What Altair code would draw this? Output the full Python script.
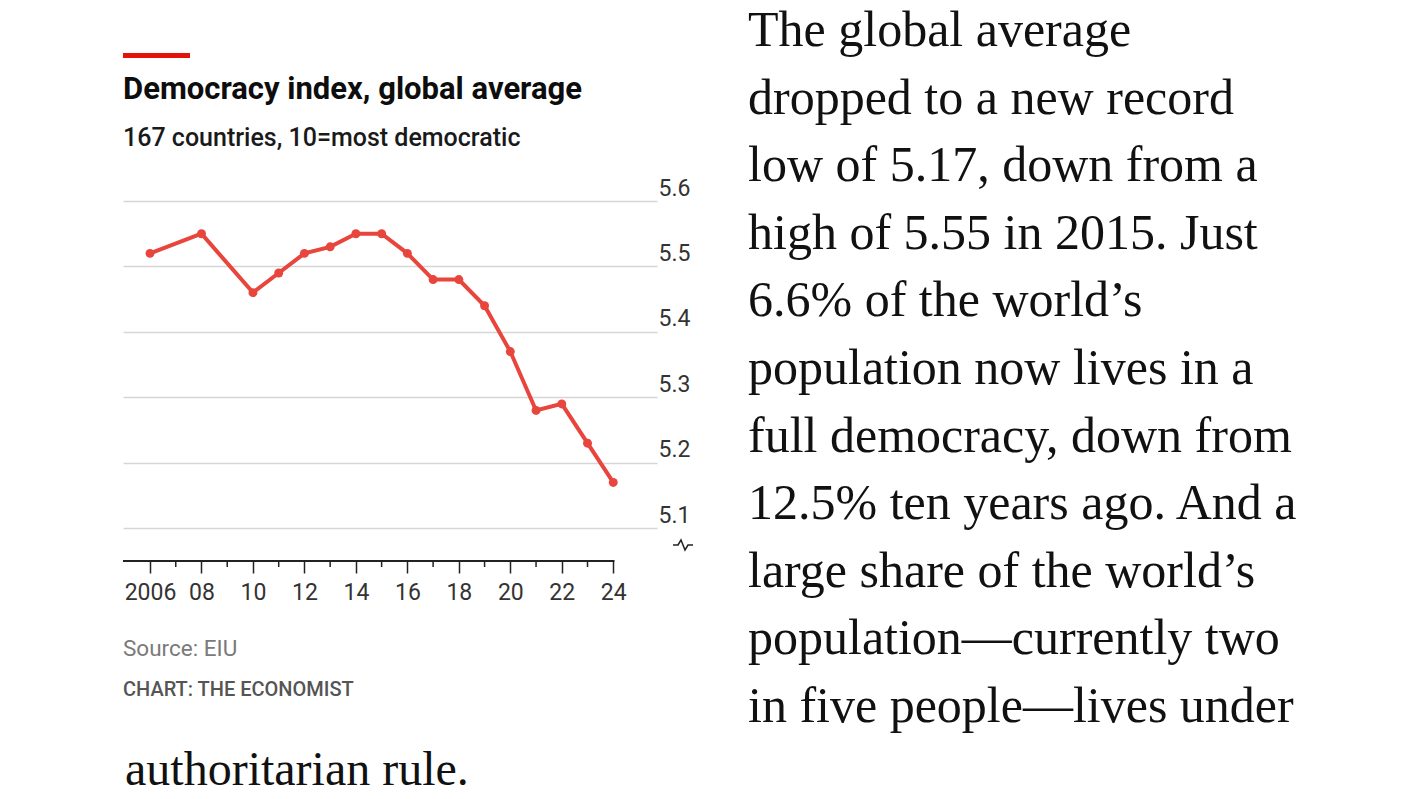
import altair as alt
import pandas as pd

# ---- data ----
years = [2006, 2008, 2010, 2011, 2012, 2013, 2014, 2015, 2016, 2017, 2018,
         2019, 2020, 2021, 2022, 2023, 2024]
values = [5.52, 5.55, 5.46, 5.49, 5.52, 5.53, 5.55, 5.55, 5.52, 5.48, 5.48,
          5.44, 5.37, 5.28, 5.29, 5.23, 5.17]
y_ticks = [5.1, 5.2, 5.3, 5.4, 5.5, 5.6]
major_years = list(range(2006, 2025, 2))
minor_years = list(range(2007, 2024, 2))

title_text = "Democracy index, global average"
subtitle_text = "167 countries, 10=most democratic"
source_text = "Source: EIU"
credit_text = "CHART: THE ECONOMIST"
body_lines = [
    "The global average",
    "dropped to a new record",
    "low of 5.17, down from a",
    "high of 5.55 in 2015. Just",
    "6.6% of the world\u2019s",
    "population now lives in a",
    "full democracy, down from",
    "12.5% ten years ago. And a",
    "large share of the world\u2019s",
    "population\u2014currently two",
    "in five people\u2014lives under",
]
body_tail = "authoritarian rule."

# ---- layout ----
W, H = 534, 360
X0, X1 = 2004.95, 2025.7
Y0, Y1 = 5.05, 5.6
SANS = "Roboto"
SERIF = "Liberation Serif"
RED_LINE = "#E8453D"

df = pd.DataFrame({"year": years, "value": values})
xscale = alt.Scale(domain=[X0, X1], nice=False, zero=False)
yscale = alt.Scale(domain=[Y0, Y1], nice=False, zero=False)

xaxis = alt.Axis(
    values=major_years,
    labelExpr="datum.value == 2006 ? '2006' : format(datum.value % 100, '02d')",
    domain=False, grid=False, tickSize=12, tickColor="#222", tickWidth=1.5,
    labelFont=SANS, labelFontSize=23, labelColor="#333", labelPadding=8,
    title=None, labelFlush=False, labelOverlap=False,
)
yaxis = alt.Axis(
    values=y_ticks, orient="right", format=".1f",
    grid=True, gridColor="#d6d6d6", gridWidth=1.5,
    domain=False, ticks=False, tickSize=0,
    labelAlign="right", labelBaseline="alphabetic", labelOffset=-6,
    labelPadding=33, labelFont=SANS, labelFontSize=23, labelColor="#333",
    title=None,
)

X = alt.X("year:Q", scale=xscale, axis=xaxis)
Y = alt.Y("value:Q", scale=yscale, axis=yaxis)

line = alt.Chart(df).mark_line(color=RED_LINE, strokeWidth=4).encode(x=X, y=Y)
pts = alt.Chart(df).mark_circle(color=RED_LINE, size=80, opacity=1).encode(x=X, y=Y)

# axis baseline from the left edge to the last year
base_df = pd.DataFrame({"year": [X0], "year2": [years[-1] + 0.05], "value": [Y0]})
baseline = alt.Chart(base_df).mark_rule(color="#222", strokeWidth=2).encode(
    x=X, x2="year2:Q", y=Y)

minor_df = pd.DataFrame({"year": minor_years})
minor = alt.Chart(minor_df).mark_rule(color="#222", strokeWidth=1.5).encode(
    x=X, y=alt.value(H), y2=alt.value(H + 6))

# broken-axis zigzag symbol, built from pixel offsets converted to data space
px_per_year = W / (X1 - X0)
px_per_val = H / (Y1 - Y0)
zz_dx = [0, 5, 8, 12, 15, 20]
zz_dy = [0, 0, -5, 5, 0, 0]
zz_x0, zz_y0 = 550, 344
zz = pd.DataFrame({
    "year": [X0 + (zz_x0 + d) / px_per_year for d in zz_dx],
    "value": [Y1 - (zz_y0 + d) / px_per_val for d in zz_dy],
    "o": list(range(len(zz_dx))),
})
zig = alt.Chart(zz).mark_line(color="#222", strokeWidth=1.5).encode(
    x=X, y=Y, order="o:Q")

one = pd.DataFrame({"k": [0]})
red_bar = alt.Chart(one).mark_rule(color="#E3120B", strokeWidth=5).encode(
    x=alt.value(0), x2=alt.value(67), y=alt.value(-145.5))


def txt(text, x, y, size, font=SANS, weight="normal", color="#111",
        baseline="middle", **kw):
    return alt.Chart(one).mark_text(
        text=text, font=font, fontSize=size, fontWeight=weight, color=color,
        align="left", baseline=baseline, **kw
    ).encode(x=alt.value(x), y=alt.value(y))


title = txt(title_text, 0, -111, 31, weight="bold", color="#0d0d0d")
subtitle = txt(subtitle_text, 0, -63, 25, weight=500, color="#1a1a1a")
source = txt(source_text, 0, 448, 22.5, color="#7a7a7a")
credit = txt(credit_text, 0, 489, 20, weight=500, color="#555")
body = txt(body_lines, 625, -155, 50, font=SERIF, color="#111",
           baseline="alphabetic", lineHeight=67.6)
tail = txt(body_tail, 2, 584, 48, font=SERIF, color="#111", baseline="alphabetic")

chart = alt.layer(
    line, pts, baseline, minor, zig, red_bar,
    title, subtitle, source, credit, body, tail,
).properties(
    width=W, height=H,
    autosize=alt.AutoSizeParams(type="none"),
    padding={"left": 115, "top": 193, "right": 755, "bottom": 230},
    background="white",
).configure_view(stroke=None)

chart.save("out.html", embed_options={"renderer": "svg", "actions": False})
